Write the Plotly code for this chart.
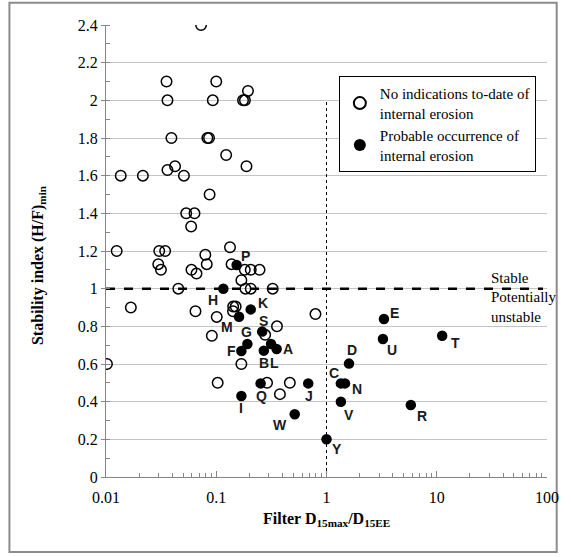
import numpy as np
import plotly.graph_objects as go

# ---------------- data ----------------
stable_x = [0.0728, 0.0354, 0.1, 0.0361, 0.093, 0.175, 0.182, 0.194, 0.0392, 0.083,
            0.086, 0.123, 0.188, 0.0136, 0.0216, 0.0361, 0.0423, 0.0509, 0.087, 0.0534,
            0.0635, 0.0592, 0.0125, 0.0304, 0.0344, 0.0298, 0.0315, 0.0796, 0.082, 0.0596,
            0.0662, 0.1333, 0.1377, 0.169, 0.1815, 0.2055, 0.247, 0.0453, 0.184, 0.2055,
            0.325, 0.0168, 0.0648, 0.101, 0.1424, 0.150, 0.142, 0.0912, 0.3555, 0.794,
            0.2776, 0.169, 0.0102, 0.103, 0.289, 0.465, 0.378]
stable_y = [2.40, 2.10, 2.10, 2.00, 2.00, 2.00, 2.00, 2.05, 1.80, 1.80,
            1.80, 1.71, 1.65, 1.60, 1.60, 1.63, 1.65, 1.60, 1.50, 1.40,
            1.40, 1.33, 1.20, 1.20, 1.20, 1.13, 1.10, 1.18, 1.13, 1.10,
            1.08, 1.22, 1.13, 1.045, 1.10, 1.10, 1.10, 1.00, 1.00, 1.00,
            1.00, 0.90, 0.88, 0.85, 0.905, 0.905, 0.88, 0.75, 0.80, 0.865,
            0.755, 0.60, 0.60, 0.50, 0.50, 0.50, 0.44]

erosion_labels = ["A", "B", "C", "D", "E", "F", "G", "H", "I", "J", "K", "L",
                  "M", "N", "P", "Q", "R", "S", "T", "U", "V", "W", "Y"]
erosion_x = [0.353, 0.27, 1.35, 1.60, 3.32, 0.169, 0.1915, 0.116, 0.169, 0.683, 0.2055, 0.314,
             0.161, 1.47, 0.153, 0.2525, 5.82, 0.261, 11.2, 3.25, 1.35, 0.515, 1.0]
erosion_y = [0.68, 0.671, 0.497, 0.602, 0.839, 0.669, 0.706, 1.0, 0.43, 0.497, 0.89, 0.706,
             0.851, 0.497, 1.126, 0.497, 0.382, 0.772, 0.75, 0.733, 0.40, 0.333, 0.2]

x_tick_vals = [0.01, 0.1, 1, 10, 100]
x_tick_text = ["0.01", "0.1", "1", "10", "100"]

# label offsets in pixels (dx right, dy down) -- styling only
label_offsets = {
    "A": (11, 0), "B": (0, 12), "C": (-7, -10), "D": (3, -14), "E": (11, -6),
    "F": (-10, 0), "G": (-1, -12), "H": (-10, 11), "I": (0, 12), "J": (1, 13),
    "K": (12, -6), "L": (3, 19), "M": (-12, 10), "N": (12, 6), "P": (9, -9),
    "Q": (1, 13), "R": (11, 11), "S": (1, -11), "T": (13, 7), "U": (9, 11),
    "V": (8, 13), "W": (-15, 11), "Y": (10, 10),
}

SERIF = "Times New Roman, Liberation Serif, serif"
SANS = "Liberation Sans, Arial, sans-serif"
AXIS_GRAY = "#868686"

fig = go.Figure()

# reference lines (drawn first, beneath markers)
fig.add_trace(go.Scatter(x=[0.01, 92], y=[1, 1], mode="lines", showlegend=False,
                         hoverinfo="skip",
                         line=dict(color="black", width=2.5, dash="dash")))
fig.add_trace(go.Scatter(x=[1, 1], y=[0, 2], mode="lines", showlegend=False,
                         hoverinfo="skip",
                         line=dict(color="black", width=1, dash="dot")))

fig.add_trace(go.Scatter(
    x=stable_x, y=stable_y, mode="markers",
    name="No indications to-date of<br>internal erosion",
    marker=dict(symbol="circle-open", size=10.5, color="black", line=dict(width=1.5)),
))
fig.add_trace(go.Scatter(
    x=erosion_x, y=erosion_y, mode="markers",
    name="Probable occurrence of<br>internal erosion",
    marker=dict(symbol="circle", size=10.5, color="black"),
))

annotations = []
for lab, xv, yv in zip(erosion_labels, erosion_x, erosion_y):
    dx, dy = label_offsets[lab]
    annotations.append(dict(
        x=float(np.log10(xv)), y=yv, xref="x", yref="y", text=f"<b>{lab}</b>",
        showarrow=False, xshift=dx, yshift=-dy,
        font=dict(family=SANS, size=14, color="#1a1a1a"),
    ))

annotations += [
    dict(x=0.501, y=-0.095, xref="paper", yref="paper",
         text="<b>Filter D<sub>15max</sub>/D<sub>15EE</sub></b>", showarrow=False,
         font=dict(family=SERIF, size=16, color="black"), yanchor="middle"),
    dict(x=-0.154, y=0.469, xref="paper", yref="paper", textangle=-90,
         text="<b>Stability index (H/F)<sub>min</sub></b>", showarrow=False,
         font=dict(family=SERIF, size=16, color="black"), xanchor="center", yanchor="middle"),
    dict(x=0.868, y=0.44, xref="paper", yref="paper", text="Stable", showarrow=False,
         xanchor="left", yanchor="middle", font=dict(family=SERIF, size=15, color="black")),
    dict(x=0.868, y=0.376, xref="paper", yref="paper", text="Potentially<br>unstable",
         showarrow=False, xanchor="left", yanchor="middle", align="left",
         font=dict(family=SERIF, size=15, color="black")),
]

minor_x = [m * 10.0 ** e for e in range(-2, 2) for m in range(2, 10)]

fig.update_layout(
    width=571, height=557,
    margin=dict(l=106, r=18, t=25, b=80),
    paper_bgcolor="white", plot_bgcolor="white",
    font=dict(family=SERIF, size=16, color="black"),
    showlegend=True,
    legend=dict(x=0.528, y=0.887, xanchor="left", yanchor="top",
                bordercolor="black", borderwidth=1, bgcolor="white",
                font=dict(family=SERIF, size=15, color="black"),
                tracegroupgap=2, itemsizing="constant",
                entrywidth=168, entrywidthmode="pixels"),
    annotations=annotations,
    shapes=[dict(type="rect", xref="paper", yref="paper",
                 x0=-0.219, x1=1.022, y0=-0.166, y1=1.049,
                 line=dict(color="#8c8c8c", width=2), layer="below")],
)

fig.update_xaxes(
    type="log", range=[-2, 2],
    tickmode="array", tickvals=x_tick_vals, ticktext=x_tick_text,
    showgrid=False, zeroline=False,
    showline=True, linecolor=AXIS_GRAY, linewidth=1,
    ticks="inside", ticklen=6, tickcolor=AXIS_GRAY,
    ticklabelstandoff=6,
    minor=dict(tickmode="array", tickvals=minor_x, ticks="inside", ticklen=4,
               tickcolor=AXIS_GRAY, showgrid=False),
    tickfont=dict(family=SERIF, size=16, color="black"),
)
fig.update_yaxes(
    range=[0, 2.4], dtick=0.2, tick0=0,
    showgrid=True, gridcolor="#c4c4c4", gridwidth=1, zeroline=False,
    showline=True, linecolor=AXIS_GRAY, linewidth=1,
    ticks="outside", ticklen=4, tickcolor=AXIS_GRAY,
    minor=dict(dtick=0.1, ticks="inside", ticklen=4, tickcolor=AXIS_GRAY, showgrid=False),
    tickfont=dict(family=SERIF, size=16, color="black"),
)

fig.write_html("out.html", config={"displayModeBar": False},
               post_script="document.body.style.margin='0';document.body.style.overflow='hidden';")
